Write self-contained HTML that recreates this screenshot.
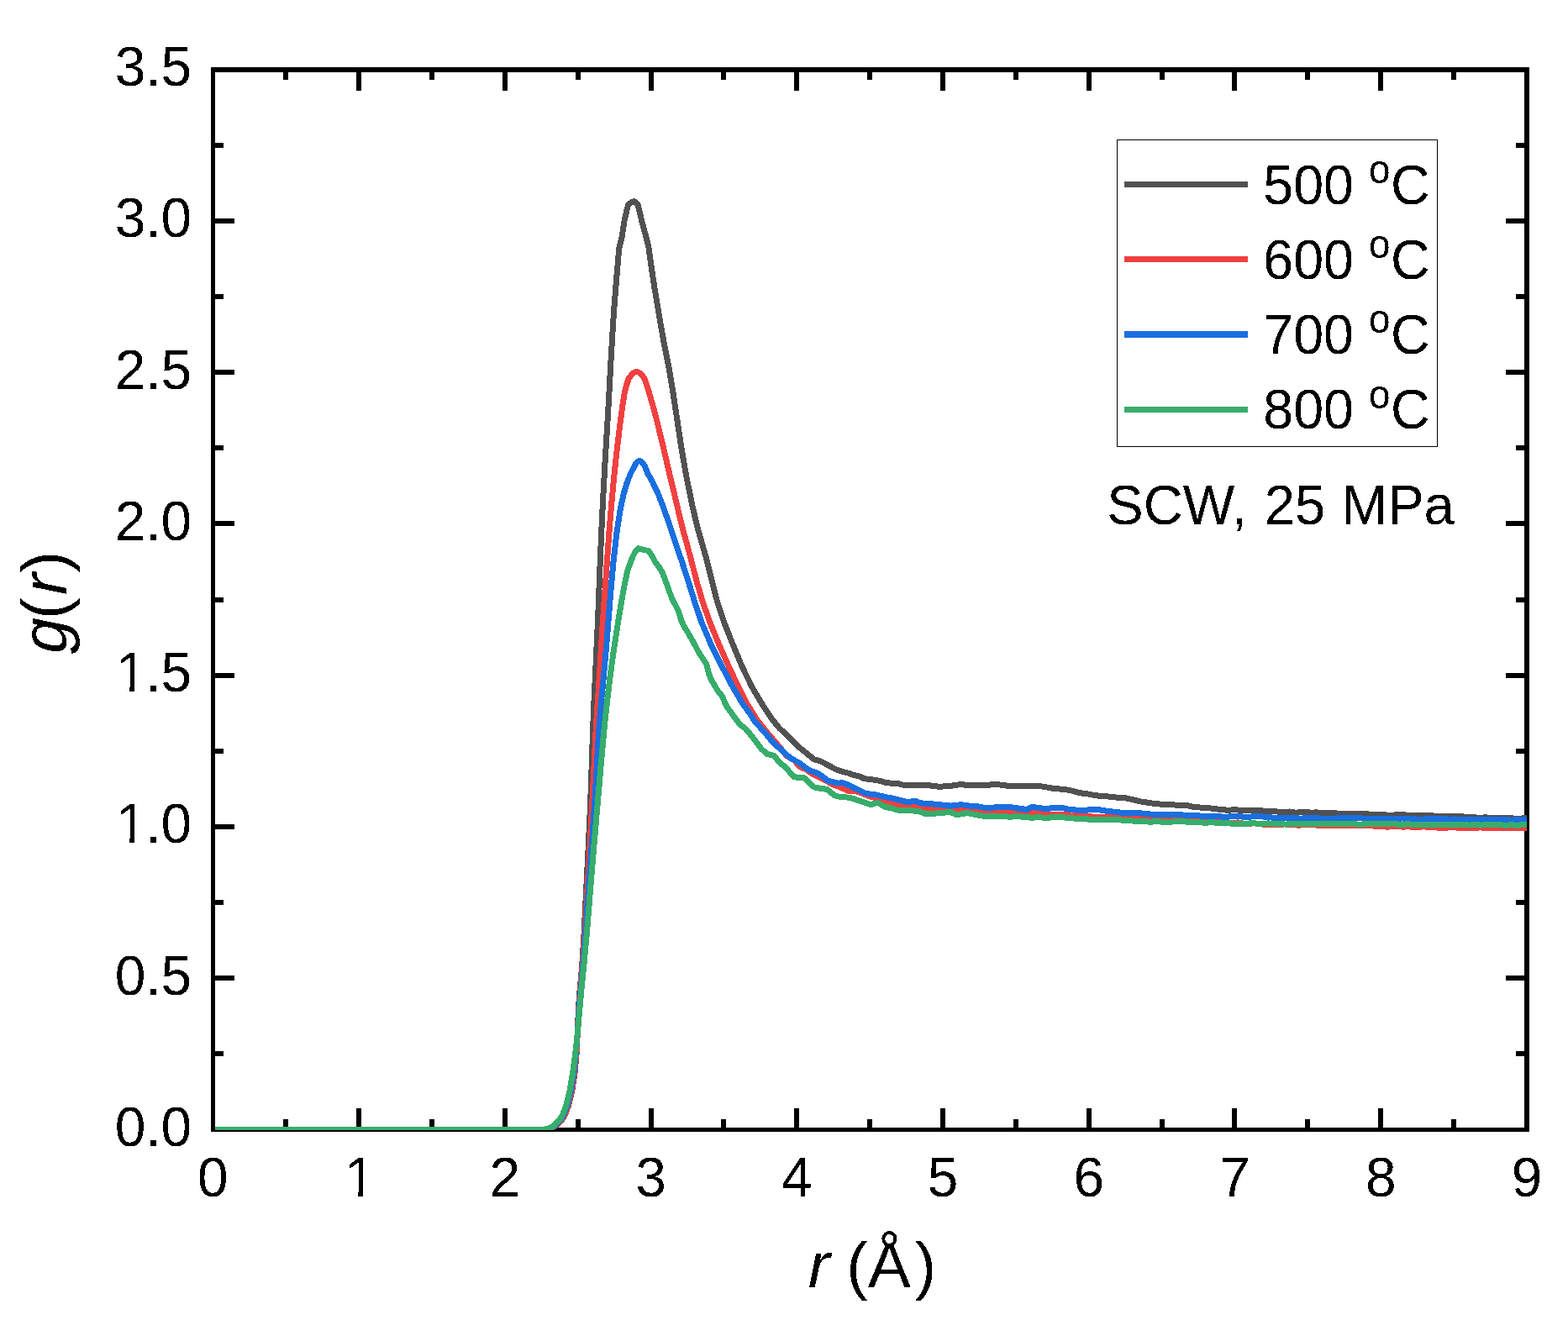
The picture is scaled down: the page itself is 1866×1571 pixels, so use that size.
<!DOCTYPE html>
<html><head><meta charset="utf-8"><style>html,body{margin:0;padding:0;background:#fff;overflow:hidden}svg{display:block}</style></head>
<body><svg width="1866" height="1571" viewBox="0 0 1866 1571"><rect x="0" y="0" width="1866" height="1571" fill="#fff"/>
<g fill="#000"><rect x="251" y="80" width="5" height="1267"/><rect x="251" y="80" width="1569" height="6"/><rect x="1814" y="80" width="6" height="1267"/><rect x="251" y="1342" width="1569" height="5"/><rect x="337" y="1332" width="6" height="10"/><rect x="337" y="86" width="6" height="9"/><rect x="424" y="1319" width="6" height="23"/><rect x="424" y="86" width="6" height="22"/><rect x="511" y="1332" width="6" height="10"/><rect x="511" y="86" width="6" height="9"/><rect x="598" y="1319" width="6" height="23"/><rect x="598" y="86" width="6" height="22"/><rect x="685" y="1332" width="6" height="10"/><rect x="685" y="86" width="6" height="9"/><rect x="772" y="1319" width="6" height="23"/><rect x="772" y="86" width="6" height="22"/><rect x="858" y="1332" width="6" height="10"/><rect x="858" y="86" width="6" height="9"/><rect x="945" y="1319" width="6" height="23"/><rect x="945" y="86" width="6" height="22"/><rect x="1032" y="1332" width="6" height="10"/><rect x="1032" y="86" width="6" height="9"/><rect x="1119" y="1319" width="6" height="23"/><rect x="1119" y="86" width="6" height="22"/><rect x="1206" y="1332" width="6" height="10"/><rect x="1206" y="86" width="6" height="9"/><rect x="1293" y="1319" width="6" height="23"/><rect x="1293" y="86" width="6" height="22"/><rect x="1380" y="1332" width="6" height="10"/><rect x="1380" y="86" width="6" height="9"/><rect x="1466" y="1319" width="6" height="23"/><rect x="1466" y="86" width="6" height="22"/><rect x="1553" y="1332" width="6" height="10"/><rect x="1553" y="86" width="6" height="9"/><rect x="1640" y="1319" width="6" height="23"/><rect x="1640" y="86" width="6" height="22"/><rect x="1727" y="1332" width="6" height="10"/><rect x="1727" y="86" width="6" height="9"/><rect x="256" y="1251" width="10" height="6"/><rect x="1804" y="1251" width="10" height="6"/><rect x="256" y="1161" width="23" height="6"/><rect x="1792" y="1161" width="22" height="6"/><rect x="256" y="1071" width="10" height="6"/><rect x="1804" y="1071" width="10" height="6"/><rect x="256" y="981" width="23" height="6"/><rect x="1792" y="981" width="22" height="6"/><rect x="256" y="891" width="10" height="6"/><rect x="1804" y="891" width="10" height="6"/><rect x="256" y="801" width="23" height="6"/><rect x="1792" y="801" width="22" height="6"/><rect x="256" y="711" width="10" height="6"/><rect x="1804" y="711" width="10" height="6"/><rect x="256" y="620" width="23" height="6"/><rect x="1792" y="620" width="22" height="6"/><rect x="256" y="530" width="10" height="6"/><rect x="1804" y="530" width="10" height="6"/><rect x="256" y="440" width="23" height="6"/><rect x="1792" y="440" width="22" height="6"/><rect x="256" y="350" width="10" height="6"/><rect x="1804" y="350" width="10" height="6"/><rect x="256" y="260" width="23" height="6"/><rect x="1792" y="260" width="22" height="6"/><rect x="256" y="170" width="10" height="6"/><rect x="1804" y="170" width="10" height="6"/></g>
<defs><clipPath id="pc"><rect x="256" y="83" width="1562" height="1262"/></clipPath></defs>
<g clip-path="url(#pc)"><path d="M253.2,1344.5 L640.0,1344.5 L647.8,1344.5 L654.4,1343.4 L660.2,1340.8 L665.2,1336.5 L669.3,1331.8 L672.8,1325.8 L676.5,1315.7 L680.5,1299.7 L684.0,1277.2 L686.3,1251.8 L687.4,1226.3 L688.4,1200.9 L690.1,1177.9 L692.5,1152.0 L695.0,1111.8 L697.5,1061.8 L700.1,1010.9 L702.6,957.7 L704.3,908.0 L705.5,870.7 L706.8,838.8 L708.4,805.6 L709.9,772.5 L711.5,739.4 L712.7,708.0 L713.8,679.5 L715.0,650.6 L716.4,618.7 L718.1,585.6 L719.9,552.5 L721.9,519.3 L723.9,486.2 L725.7,453.1 L727.4,422.1 L729.0,395.2 L730.6,369.9 L732.6,344.5 L734.7,319.4 L736.8,295.0 L740.0,282.3 L743.0,263.2 L745.5,252.0 L747.5,244.1 L751.0,241.0 L754.4,239.5 L757.0,241.0 L759.2,244.1 L761.5,253.0 L763.7,263.2 L769.0,282.3 L772.0,295.0 L773.6,306.7 L775.4,319.1 L777.3,331.8 L779.2,344.5 L781.4,357.2 L783.5,369.9 L785.6,382.7 L787.9,395.4 L790.1,408.1 L792.6,420.7 L796.1,438.3 L800.8,466.2 L805.8,499.3 L810.8,532.4 L816.5,565.5 L823.2,598.6 L829.4,625.5 L834.7,644.3 L840.8,665.4 L847.1,690.9 L853.6,716.3 L862.1,741.8 L872.2,767.2 L882.8,792.7 L894.8,817.4 L906.0,836.5 L913.2,847.5 L919.2,856.4 L927.4,866.5 L940.1,878.5 L949.1,887.9 L958.0,895.0 L968.6,903.6 L977.3,906.3 L986.0,911.0 L995.3,916.0 L1003.0,918.5 L1009.4,920.1 L1015.7,922.4 L1022.1,923.8 L1028.6,926.6 L1035.0,927.7 L1041.4,928.2 L1047.8,929.6 L1054.3,931.4 L1060.8,932.2 L1067.2,932.1 L1073.6,934.0 L1080.0,934.7 L1086.5,934.2 L1092.9,934.9 L1099.3,934.5 L1105.8,934.9 L1112.2,935.3 L1118.6,936.6 L1125.0,935.5 L1131.5,935.3 L1137.9,934.3 L1144.3,933.4 L1150.8,934.6 L1157.2,934.7 L1163.7,934.5 L1170.1,934.7 L1176.5,934.3 L1182.9,933.4 L1189.3,933.9 L1195.8,934.7 L1202.2,935.9 L1208.6,935.9 L1215.0,935.2 L1221.5,935.9 L1228.8,935.2 L1236.1,935.4 L1244.2,936.7 L1252.2,938.1 L1260.2,938.9 L1268.2,939.7 L1276.2,941.2 L1284.3,943.7 L1292.3,944.5 L1300.4,946.1 L1308.5,947.3 L1316.5,947.7 L1324.5,948.7 L1332.5,949.4 L1340.5,950.0 L1348.6,951.8 L1356.7,953.8 L1364.7,955.0 L1372.8,956.3 L1380.8,957.1 L1388.8,958.0 L1396.8,957.9 L1404.8,958.5 L1412.9,958.7 L1421.0,960.5 L1429.0,961.1 L1437.0,961.4 L1445.1,962.7 L1453.2,963.4 L1461.2,964.3 L1469.2,963.7 L1477.2,964.3 L1485.2,964.8 L1493.3,964.3 L1501.3,964.8 L1509.4,965.9 L1515.7,965.5 L1522.1,966.3 L1528.4,966.9 L1534.7,966.0 L1541.0,967.1 L1547.3,966.9 L1553.7,966.3 L1560.0,967.2 L1566.0,966.9 L1572.0,967.2 L1578.0,967.6 L1584.0,967.3 L1590.0,967.8 L1596.0,968.9 L1602.0,968.7 L1608.0,968.0 L1614.0,968.3 L1620.0,969.0 L1626.2,968.5 L1632.5,969.7 L1638.8,969.2 L1645.0,969.7 L1651.2,970.1 L1657.5,970.2 L1663.8,969.3 L1670.0,969.8 L1676.0,970.3 L1682.0,970.8 L1688.0,971.0 L1694.0,970.8 L1700.0,970.4 L1706.0,971.0 L1712.0,971.5 L1718.0,971.2 L1724.0,971.4 L1730.0,972.0 L1736.2,971.9 L1742.4,972.0 L1748.6,972.2 L1754.9,972.9 L1761.1,973.2 L1767.3,972.9 L1773.5,973.2 L1779.7,973.3 L1785.9,973.1 L1792.1,973.3 L1798.4,973.9 L1804.6,974.2 L1810.8,974.0 L1817.0,973.8" fill="none" stroke="#515151" stroke-width="7" stroke-linejoin="round" stroke-linecap="butt" shape-rendering="crispEdges"/><path d="M253.2,1344.5 L641.0,1344.5 L647.4,1344.5 L654.0,1343.4 L659.8,1340.8 L664.8,1336.5 L668.9,1331.8 L672.4,1325.8 L676.1,1315.7 L680.1,1299.7 L683.6,1277.2 L686.1,1251.8 L687.5,1226.3 L688.7,1200.9 L690.5,1177.9 L692.9,1152.0 L695.8,1111.8 L698.8,1061.8 L701.8,1010.9 L704.7,957.7 L707.2,908.0 L709.0,870.7 L711.1,838.8 L713.3,805.6 L715.3,772.5 L717.4,739.4 L719.8,705.1 L722.3,669.5 L724.8,635.2 L727.5,602.1 L730.6,569.0 L734.1,535.9 L737.8,505.6 L740.7,483.7 L742.9,469.6 L745.3,459.1 L748.2,450.5 L752.0,445.5 L755.0,443.0 L757.5,442.5 L760.0,443.0 L763.5,446.0 L767.3,451.0 L772.0,465.9 L776.5,481.1 L780.6,496.3 L784.4,511.6 L788.1,526.9 L791.7,542.1 L795.2,557.4 L798.8,572.7 L802.5,587.9 L806.1,603.2 L809.7,618.5 L812.9,631.5 L816.7,644.8 L822.3,665.4 L828.8,690.9 L836.2,716.3 L845.3,741.8 L855.7,767.2 L867.0,792.7 L878.6,817.2 L889.7,838.8 L900.5,856.1 L911.5,870.1 L921.2,881.4 L929.0,890.5 L936.0,899.5 L945.0,904.8 L952.5,913.0 L960.0,916.0 L966.0,920.5 L973.5,924.3 L982.5,928.8 L990.0,933.3 L1000.0,937.0 L1010.0,941.5 L1020.0,942.0 L1027.1,944.6 L1034.3,947.6 L1041.4,949.7 L1047.9,951.4 L1054.3,953.0 L1060.8,955.0 L1067.2,956.8 L1073.6,958.3 L1080.1,958.8 L1086.5,959.8 L1092.9,960.6 L1099.3,961.5 L1105.8,961.9 L1112.2,962.4 L1118.6,962.6 L1125.0,962.8 L1131.4,963.0 L1137.9,963.5 L1144.3,963.9 L1150.8,963.8 L1157.2,964.5 L1163.6,964.8 L1170.1,965.1 L1176.5,965.4 L1182.9,964.8 L1189.4,965.9 L1195.8,965.8 L1202.2,966.0 L1208.7,965.9 L1215.1,966.5 L1221.5,966.4 L1228.6,967.3 L1235.8,967.1 L1242.9,968.1 L1250.0,969.0 L1256.2,969.7 L1262.5,970.0 L1268.8,969.5 L1275.0,971.1 L1281.2,970.5 L1287.5,971.4 L1293.8,971.8 L1300.0,972.0 L1306.2,972.0 L1312.5,972.9 L1318.8,972.4 L1325.0,972.9 L1331.2,973.2 L1337.5,974.0 L1343.8,973.8 L1350.0,974.0 L1356.2,974.7 L1362.5,974.4 L1368.8,975.0 L1375.0,975.2 L1381.2,975.2 L1387.5,976.2 L1393.8,975.1 L1400.0,976.0 L1406.1,976.0 L1412.2,976.3 L1418.3,977.0 L1424.4,976.9 L1430.5,977.8 L1436.6,978.0 L1442.7,978.1 L1448.8,978.0 L1454.9,977.8 L1461.0,978.8 L1467.1,979.5 L1473.2,978.9 L1479.4,980.2 L1485.5,980.6 L1491.6,979.8 L1497.8,980.3 L1503.9,981.2 L1510.0,981.2 L1516.0,981.2 L1522.0,981.9 L1528.0,980.9 L1534.0,981.5 L1540.0,981.7 L1546.0,982.3 L1552.0,981.2 L1558.0,981.4 L1564.0,981.7 L1570.0,982.7 L1576.0,982.9 L1582.0,982.9 L1588.0,982.8 L1594.0,982.3 L1600.0,982.5 L1606.2,982.5 L1612.5,982.4 L1618.8,982.4 L1625.0,983.0 L1631.2,982.4 L1637.5,983.8 L1643.8,983.0 L1650.0,984.2 L1656.2,983.8 L1662.5,983.3 L1668.8,984.1 L1675.0,983.9 L1681.2,984.1 L1687.5,984.8 L1693.8,983.7 L1700.0,984.5 L1706.2,984.5 L1712.3,985.2 L1718.5,985.2 L1724.6,984.9 L1730.8,984.7 L1736.9,985.6 L1743.1,985.4 L1749.3,985.6 L1755.4,985.5 L1761.6,984.8 L1767.7,985.6 L1773.9,985.0 L1780.1,985.0 L1786.2,985.0 L1792.4,985.9 L1798.5,985.4 L1804.7,985.3 L1810.8,985.7 L1817.0,986.0" fill="none" stroke="#F14040" stroke-width="7" stroke-linejoin="round" stroke-linecap="butt" shape-rendering="crispEdges"/><path d="M253.2,1344.5 L641.0,1344.5 L646.3,1344.5 L652.9,1343.4 L658.7,1340.8 L663.7,1336.5 L667.8,1331.8 L671.3,1325.8 L675.0,1315.7 L679.0,1299.7 L682.7,1277.2 L685.6,1251.8 L687.5,1226.3 L689.1,1200.9 L691.1,1177.9 L693.7,1152.0 L696.7,1111.8 L700.1,1061.8 L703.9,1010.9 L707.6,957.7 L710.5,908.0 L712.6,870.7 L715.2,838.8 L718.3,805.6 L721.3,772.5 L724.0,739.4 L726.7,705.1 L729.9,669.5 L733.8,635.2 L738.1,606.8 L742.2,587.7 L746.3,574.1 L750.4,563.7 L754.4,556.0 L757.0,551.0 L759.0,549.0 L761.5,548.6 L764.5,550.5 L767.5,555.0 L770.8,563.6 L773.0,567.1 L777.1,574.8 L783.3,587.9 L789.2,603.2 L794.6,618.5 L799.6,633.7 L804.9,649.3 L811.3,667.7 L818.8,690.9 L826.7,716.3 L835.3,741.8 L846.2,767.2 L858.9,792.7 L871.8,817.2 L883.4,837.0 L892.9,850.0 L898.5,859.0 L910.5,872.1 L920.3,884.1 L929.3,892.0 L940.9,902.5 L951.0,907.8 L962.3,916.4 L974.3,920.9 L985.9,929.5 L997.5,932.1 L1002.9,931.7 L1009.3,934.1 L1015.7,937.5 L1022.1,940.2 L1028.6,943.7 L1035.0,945.1 L1041.4,945.6 L1047.8,947.2 L1054.3,948.8 L1060.8,949.9 L1067.2,951.4 L1073.6,953.0 L1080.0,954.6 L1090.3,953.3 L1092.9,955.2 L1099.3,956.2 L1105.8,956.5 L1112.2,957.2 L1118.6,957.8 L1125.0,958.4 L1131.5,959.1 L1137.9,958.2 L1144.3,957.8 L1150.8,958.6 L1157.2,959.7 L1163.7,959.8 L1170.1,961.0 L1176.5,961.3 L1182.9,961.0 L1189.3,960.9 L1195.8,960.4 L1202.2,960.5 L1208.6,961.7 L1215.0,962.4 L1221.5,963.6 L1228.0,960.6 L1236.0,961.3 L1244.1,962.7 L1250.5,961.9 L1257.0,961.6 L1263.4,961.4 L1270.4,962.9 L1277.3,963.7 L1284.3,964.6 L1290.3,964.8 L1296.3,963.6 L1302.4,964.0 L1308.4,963.8 L1314.4,964.9 L1320.5,965.5 L1326.5,966.4 L1332.5,967.0 L1338.5,967.8 L1344.6,967.7 L1350.7,967.5 L1356.7,967.8 L1362.7,968.5 L1368.8,969.0 L1374.8,969.7 L1380.8,969.5 L1386.8,969.1 L1392.8,969.8 L1398.9,969.8 L1404.9,969.5 L1410.9,970.5 L1417.0,970.1 L1423.0,970.4 L1429.0,971.1 L1435.0,971.5 L1441.0,971.9 L1447.1,971.1 L1453.1,971.9 L1459.1,972.5 L1465.2,971.4 L1471.2,971.8 L1477.2,971.9 L1483.2,972.4 L1489.2,972.0 L1495.3,971.4 L1501.3,971.9 L1508.5,972.4 L1515.7,973.3 L1522.8,973.6 L1530.0,973.5 L1536.4,973.2 L1542.7,973.8 L1549.1,974.2 L1555.5,973.3 L1561.8,973.2 L1568.2,973.2 L1574.5,974.5 L1580.9,974.0 L1587.3,974.1 L1593.6,973.7 L1600.0,974.0 L1606.2,973.6 L1612.5,973.5 L1618.8,973.9 L1625.0,974.2 L1631.2,974.5 L1637.5,975.0 L1643.8,974.8 L1650.0,974.3 L1656.2,974.8 L1662.5,974.1 L1668.8,974.0 L1675.0,974.2 L1681.2,974.7 L1687.5,975.3 L1693.8,975.0 L1700.0,974.8 L1706.2,974.9 L1712.3,974.9 L1718.5,974.5 L1724.6,975.3 L1730.8,974.9 L1736.9,975.6 L1743.1,975.8 L1749.3,975.4 L1755.4,975.9 L1761.6,975.4 L1767.7,975.8 L1773.9,975.2 L1780.1,975.6 L1786.2,975.0 L1792.4,975.3 L1798.5,976.2 L1804.7,975.5 L1810.8,975.7 L1817.0,975.7" fill="none" stroke="#1A6FDF" stroke-width="7" stroke-linejoin="round" stroke-linecap="butt" shape-rendering="crispEdges"/><path d="M253.2,1344.5 L640.0,1344.5 L645.0,1344.5 L651.6,1343.4 L657.4,1340.8 L662.4,1336.5 L666.5,1331.8 L670.0,1325.8 L673.8,1315.7 L677.7,1299.7 L681.6,1277.2 L685.0,1251.8 L687.6,1226.3 L689.8,1200.9 L692.1,1175.4 L695.0,1147.0 L698.5,1109.3 L702.3,1061.8 L706.5,1010.9 L711.1,957.7 L715.4,908.0 L718.7,870.7 L722.1,838.8 L726.0,805.6 L730.6,772.5 L735.7,739.4 L740.4,711.4 L743.8,692.9 L747.0,678.2 L752.8,662.9 L756.5,655.5 L759.9,652.7 L766.0,654.3 L772.0,655.7 L776.0,661.5 L779.5,668.5 L784.6,675.4 L788.0,681.0 L791.0,688.2 L795.4,700.9 L800.2,713.6 L803.5,719.5 L806.9,726.3 L811.0,739.1 L814.0,745.5 L818.0,751.8 L825.3,764.5 L828.5,770.5 L832.0,777.2 L836.5,784.0 L840.6,790.0 L843.8,802.7 L846.5,809.0 L850.2,815.4 L854.0,822.0 L859.1,828.1 L864.8,840.8 L880.9,862.8 L886.9,866.9 L895.1,876.6 L906.4,891.6 L913.0,897.5 L921.4,899.5 L927.0,906.6 L935.6,914.1 L944.6,924.3 L950.0,925.5 L956.6,925.4 L969.0,937.0 L977.0,938.5 L984.0,939.3 L993.4,946.8 L1001.0,948.8 L1008.4,949.0 L1015.7,950.4 L1022.1,953.0 L1028.6,954.9 L1036.3,957.8 L1044.0,955.2 L1054.3,960.6 L1060.8,961.8 L1067.2,963.9 L1073.6,964.7 L1080.0,964.5 L1086.5,965.0 L1092.9,965.1 L1101.9,968.7 L1110.2,968.3 L1118.6,967.7 L1125.0,967.0 L1131.5,966.8 L1137.9,969.4 L1144.3,968.9 L1150.8,967.5 L1157.2,968.9 L1163.6,970.0 L1170.0,971.2 L1176.5,971.0 L1182.9,972.0 L1189.3,971.2 L1195.8,971.6 L1202.2,972.4 L1208.7,971.4 L1215.1,972.0 L1221.5,972.7 L1227.9,973.2 L1234.0,972.8 L1240.1,973.0 L1246.1,973.4 L1252.2,972.7 L1258.6,972.8 L1265.0,972.7 L1271.5,973.7 L1277.9,974.0 L1284.3,974.0 L1290.3,974.5 L1296.3,975.2 L1302.4,975.3 L1308.4,975.1 L1314.4,975.1 L1320.5,975.8 L1326.5,975.6 L1332.5,975.9 L1338.5,976.4 L1344.6,976.3 L1350.7,977.6 L1356.7,978.0 L1362.7,977.6 L1368.8,978.4 L1374.8,977.5 L1380.8,978.0 L1386.8,978.5 L1392.8,978.2 L1398.9,977.6 L1404.9,978.0 L1410.9,977.9 L1417.0,978.8 L1423.0,978.8 L1429.0,978.8 L1435.0,979.5 L1441.0,978.3 L1447.1,979.3 L1453.1,979.1 L1459.1,979.4 L1465.2,980.1 L1471.2,980.5 L1477.2,980.4 L1483.2,980.3 L1489.2,979.8 L1495.3,980.0 L1501.3,980.4 L1509.3,979.9 L1517.4,980.5 L1523.8,980.1 L1530.1,981.2 L1536.5,980.2 L1542.8,980.5 L1549.2,981.0 L1555.5,980.2 L1561.9,981.0 L1568.2,980.5 L1574.6,981.0 L1580.9,980.7 L1587.3,980.1 L1593.6,980.2 L1600.0,980.7 L1606.2,980.2 L1612.5,980.7 L1618.8,981.4 L1625.0,980.6 L1631.2,981.0 L1637.5,980.6 L1643.8,981.0 L1650.0,980.8 L1656.2,980.5 L1662.5,980.9 L1668.8,981.6 L1675.0,980.6 L1681.2,981.4 L1687.5,981.1 L1693.8,981.8 L1700.0,981.3 L1706.2,981.8 L1712.3,981.8 L1718.5,981.3 L1724.6,981.1 L1730.8,981.1 L1736.9,981.5 L1743.1,981.7 L1749.3,982.1 L1755.4,981.3 L1761.6,982.1 L1767.7,981.7 L1773.9,981.7 L1780.1,981.7 L1786.2,981.8 L1792.4,982.5 L1798.5,981.5 L1804.7,982.5 L1810.8,981.7 L1817.0,982.0" fill="none" stroke="#37AD6B" stroke-width="7" stroke-linejoin="round" stroke-linecap="butt" shape-rendering="crispEdges"/></g>
<defs><clipPath id="c1x1"><rect x="-5" y="-70" width="60" height="64.56"/><rect x="16.88" y="-7" width="6.04" height="9"/></clipPath><clipPath id="c1y2"><rect x="-5" y="-70" width="60" height="64.56"/><rect x="16.88" y="-7" width="6.04" height="9"/></clipPath><clipPath id="c1y3"><rect x="-5" y="-70" width="60" height="64.56"/><rect x="16.88" y="-7" width="6.04" height="9"/></clipPath><filter id="bin" x="0" y="0" width="1" height="1" color-interpolation-filters="sRGB"><feComponentTransfer><feFuncA type="discrete" tableValues="0 1"/></feComponentTransfer></filter></defs>
<g filter="url(#bin)">
<g style="font-family:'Liberation Sans',Arial,sans-serif;font-size:67.5px" fill="#000"><text transform="translate(253.25,1423.5) scale(0.975,1)" text-anchor="middle">0</text><text transform="translate(409.90,1423.50) scale(0.975,1)" clip-path="url(#c1x1)">1</text><text transform="translate(600.75,1423.5) scale(0.975,1)" text-anchor="middle">2</text><text transform="translate(774.50,1423.5) scale(0.975,1)" text-anchor="middle">3</text><text transform="translate(948.25,1423.5) scale(0.975,1)" text-anchor="middle">4</text><text transform="translate(1122.00,1423.5) scale(0.975,1)" text-anchor="middle">5</text><text transform="translate(1295.75,1423.5) scale(0.975,1)" text-anchor="middle">6</text><text transform="translate(1469.50,1423.5) scale(0.975,1)" text-anchor="middle">7</text><text transform="translate(1643.25,1423.5) scale(0.975,1)" text-anchor="middle">8</text><text transform="translate(1817.00,1423.5) scale(0.975,1)" text-anchor="middle">9</text><text transform="translate(136.71,1363.90) scale(0.975,1)">0.0</text><text transform="translate(136.71,1183.65) scale(0.975,1)">0.5</text><text transform="translate(137.91,1003.40) scale(0.975,1)" clip-path="url(#c1y2)">1</text><text transform="translate(173.31,1003.40) scale(0.975,1)">.0</text><text transform="translate(137.91,823.15) scale(0.975,1)" clip-path="url(#c1y3)">1</text><text transform="translate(173.31,823.15) scale(0.975,1)">.5</text><text transform="translate(136.71,642.90) scale(0.975,1)">2.0</text><text transform="translate(136.71,462.65) scale(0.975,1)">2.5</text><text transform="translate(136.71,282.40) scale(0.975,1)">3.0</text><text transform="translate(136.71,102.15) scale(0.975,1)">3.5</text></g>
<g style="font-family:'Liberation Sans',Arial,sans-serif;font-size:76.5px"><text transform="translate(957.70,1531.6) skewX(-11.5)">r</text><text x="1007.25" y="1531.6">(Å<tspan dx="5">)</tspan></text></g>
<g transform="translate(79,781.5) rotate(-90)" style="font-family:'Liberation Sans',Arial,sans-serif;font-size:76.5px"><text transform="skewX(-11.5)">g</text><text x="44.55" y="0">(</text><text transform="translate(69.55,0) skewX(-11.5)">r</text><text x="100.04" y="0">)</text></g>
<rect x="1329.5" y="166.5" width="381" height="365" fill="none" stroke="#000" stroke-width="1"/><rect x="1338" y="215.9" width="147" height="7" fill="#515151"/><text transform="translate(1503.3,242.5) scale(0.955,1)" style="font-family:'Liberation Sans',Arial,sans-serif;font-size:67.6px">500 <tspan font-size="48" dy="-24.8">o</tspan><tspan dx="0.5" dy="24.8">C</tspan></text><rect x="1338" y="305.2" width="147" height="7" fill="#F14040"/><text transform="translate(1503.3,331.8) scale(0.955,1)" style="font-family:'Liberation Sans',Arial,sans-serif;font-size:67.6px">600 <tspan font-size="48" dy="-24.8">o</tspan><tspan dx="0.5" dy="24.8">C</tspan></text><rect x="1338" y="394.5" width="147" height="7" fill="#1A6FDF"/><text transform="translate(1503.3,421.1) scale(0.955,1)" style="font-family:'Liberation Sans',Arial,sans-serif;font-size:67.6px">700 <tspan font-size="48" dy="-24.8">o</tspan><tspan dx="0.5" dy="24.8">C</tspan></text><rect x="1338" y="483.8" width="147" height="7" fill="#37AD6B"/><text transform="translate(1503.3,510.4) scale(0.955,1)" style="font-family:'Liberation Sans',Arial,sans-serif;font-size:67.6px">800 <tspan font-size="48" dy="-24.8">o</tspan><tspan dx="0.5" dy="24.8">C</tspan></text>
<text transform="translate(1317.3,623.9) scale(0.967,1)" style="font-family:'Liberation Sans',Arial,sans-serif;font-size:67.4px">SCW,<tspan dx="3"> 25</tspan><tspan dx="1.5"> MPa</tspan></text>
</g></svg></body></html>
